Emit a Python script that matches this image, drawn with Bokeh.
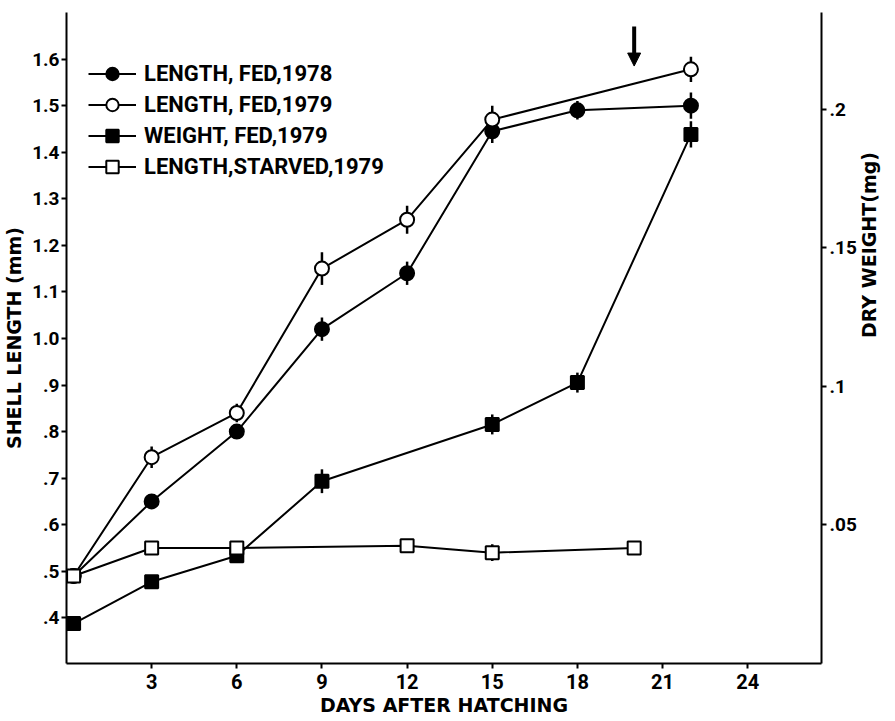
import math
from bokeh.plotting import figure
from bokeh.models import (Range1d, LinearAxis, Legend, LegendItem, Arrow,
                          NormalHead, FixedTicker, ColumnDataSource)
from bokeh.embed import file_html
from bokeh.resources import INLINE

# ---------------- data ----------------
days_len78 = [0.25, 3, 6, 9, 12, 15, 18, 22]
len78 = [0.49, 0.65, 0.80, 1.02, 1.14, 1.445, 1.49, 1.50]
err78 = [0, 0, 0.015, 0.025, 0.025, 0.025, 0.02, 0.028]

days_len79 = [0.25, 3, 6, 9, 12, 15, 22]
len79 = [0.49, 0.745, 0.84, 1.15, 1.255, 1.47, 1.578]
err79 = [0, 0.023, 0.02, 0.035, 0.03, 0.03, 0.027]

days_wt79 = [0.25, 3, 6, 9, 15, 18, 22]
wt79 = [0.0144, 0.0295, 0.0389, 0.0658, 0.0863, 0.1014, 0.191]
errwt = [0, 0, 0, 0.0043, 0.0036, 0.0036, 0.0047]

days_starved = [0.25, 3, 6, 12, 15, 20]
starved = [0.49, 0.55, 0.55, 0.555, 0.54, 0.55]
errst = [0, 0.015, 0, 0, 0.018, 0]

x_ticks = [3, 6, 9, 12, 15, 18, 21, 24]
left_ticks = [0.4, 0.5, 0.6, 0.7, 0.8, 0.9, 1.0, 1.1, 1.2, 1.3, 1.4, 1.5, 1.6]
left_labels = [".4", ".5", ".6", ".7", ".8", ".9", "1.0", "1.1", "1.2", "1.3", "1.4", "1.5", "1.6"]
right_ticks = [0.05, 0.1, 0.15, 0.2]
right_labels = [".05", ".1", ".15", ".2"]

legend_names = ["LENGTH, FED,1978", "LENGTH, FED,1979", "WEIGHT, FED,1979", "LENGTH,STARVED,1979"]
x_title = "DAYS AFTER HATCHING"
y_title = "SHELL LENGTH (mm)"
r_title = "DRY WEIGHT(mg)"
arrow_day = 20
arrow_top, arrow_tip = 1.67, 1.585

FONT = "Roboto"
TITLE_FONT = "DejaVu Sans"

# ---------------- figure ----------------
p = figure(width=893, height=719, x_range=Range1d(0, 26.6), y_range=Range1d(0.302, 1.70),
           output_backend="svg", toolbar_location=None,
           min_border_left=66, min_border_right=70, min_border_top=12, min_border_bottom=56)
p.extra_y_ranges = {"wt": Range1d(0, 0.235)}
p.outline_line_color = None
p.grid.visible = False
p.background_fill_color = "white"

def style_axis(ax, size):
    ax.axis_line_width = 2
    ax.axis_line_color = "black"
    ax.major_tick_out = 5
    ax.major_tick_in = 0
    ax.major_tick_line_width = 2
    ax.minor_tick_line_color = None
    ax.major_label_text_font = FONT
    ax.major_label_text_font_style = "bold"
    ax.major_label_text_font_size = size
    ax.major_label_text_color = "black"
    ax.axis_label_text_font = TITLE_FONT
    ax.axis_label_text_font_style = "bold"
    ax.axis_label_text_font_size = "19px"
    ax.axis_label_text_color = "black"

xa = p.xaxis[0]
xa.ticker = FixedTicker(ticks=x_ticks)
xa.axis_label = x_title
style_axis(xa, "20px")
xa.major_label_standoff = 5
xa.axis_label_standoff = 2

ya = p.yaxis[0]
ya.ticker = FixedTicker(ticks=left_ticks)
ya.major_label_overrides = dict(zip(left_ticks, left_labels))
ya.axis_label = y_title
style_axis(ya, "19px")
ya.major_label_standoff = 2
ya.axis_label_standoff = 4

ra = LinearAxis(y_range_name="wt", ticker=FixedTicker(ticks=right_ticks),
                major_label_overrides=dict(zip(right_ticks, right_labels)),
                axis_label=r_title)
style_axis(ra, "19px")
ra.major_label_standoff = 3
ra.axis_label_standoff = 9
ra.axis_label_orientation = math.pi / 2
ra.axis_label_text_align = "center"
p.add_layout(ra, "right")

# ---------------- series ----------------
def series(days, vals, errs, marker, fill, size, range_name="default"):
    src = ColumnDataSource(dict(x=days, y=vals,
                                lo=[v - e for v, e in zip(vals, errs)],
                                hi=[v + e for v, e in zip(vals, errs)]))
    ln = p.line("x", "y", source=src, line_color="black", line_width=2, y_range_name=range_name)
    p.segment("x", "lo", "x", "hi", source=src, line_color="black", line_width=2.5,
              y_range_name=range_name)
    sc = p.scatter("x", "y", source=src, marker=marker, size=size, fill_color=fill,
                   line_color="black", line_width=2, y_range_name=range_name)
    return ln, sc

r78 = series(days_len78, len78, err78, "circle", "black", 14)
r79 = series(days_len79, len79, err79, "circle", "white", 14)
rwt = series(days_wt79, wt79, errwt, "square", "black", 13, "wt")
rst = series(days_starved, starved, errst, "square", "white", 13)

legend = Legend(items=[LegendItem(label=legend_names[0], renderers=list(r78)),
                       LegendItem(label=legend_names[1], renderers=list(r79)),
                       LegendItem(label=legend_names[2], renderers=list(rwt)),
                       LegendItem(label=legend_names[3], renderers=list(rst))],
                location=(22, 481), orientation="vertical")
legend.background_fill_alpha = 0
legend.border_line_color = None
legend.padding = 0
legend.margin = 0
legend.spacing = 0
legend.label_height = 31
legend.glyph_height = 31
legend.glyph_width = 48
legend.label_standoff = 8
legend.label_text_font = FONT
legend.label_text_font_style = "bold"
legend.label_text_font_size = "22px"
legend.label_text_color = "black"
p.add_layout(legend, "center")

p.add_layout(Arrow(end=NormalHead(size=13, fill_color="black", line_color="black"),
                   x_start=arrow_day, y_start=arrow_top, x_end=arrow_day, y_end=arrow_tip,
                   line_width=4, line_color="black"))

open("out.html", "w").write(file_html(p, INLINE))
